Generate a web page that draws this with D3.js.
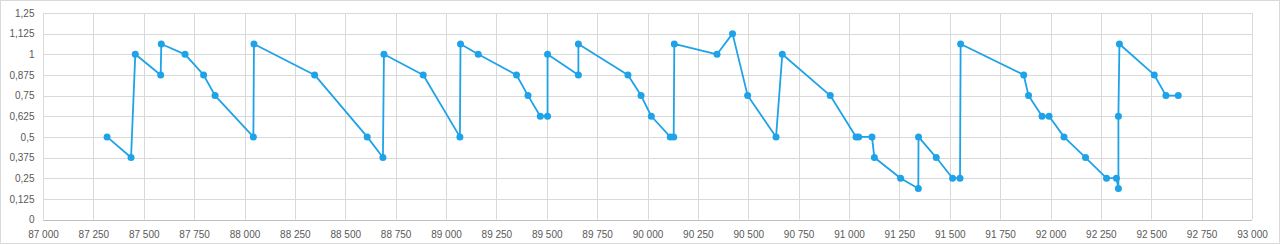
<!DOCTYPE html>
<html><head><meta charset="utf-8">
<script src="https://cdn.jsdelivr.net/npm/d3@7"></script>
<style>
html,body{margin:0;padding:0;background:#fff;}
svg{display:block;}
</style></head>
<body>
<svg id="c" width="1280" height="245"></svg>
<script>
const xValues = [87318,87437,87458,87584,87587,87705,87797,87854,88044,88047,88348,88609,88687,88692,88887,89069,89072,89160,89350,89407,89468,89504,89504,89657,89657,89903,89968,90019,90113,90130,90133,90345,90422,90497,90638,90669,90907,91035,91048,91114,91126,91256,91344,91345,91433,91514,91551,91554,91867,91891,91958,91993,92067,92174,92278,92327,92337,92337,92342,92515,92573,92634];
const yValues = [0.5,0.375,1,0.875,1.0625,1,0.875,0.75,0.5,1.0625,0.875,0.5,0.375,1,0.875,0.5,1.0625,1,0.875,0.75,0.625,0.625,1,0.875,1.0625,0.875,0.75,0.625,0.5,0.5,1.0625,1,1.125,0.75,0.5,1,0.75,0.5,0.5,0.5,0.375,0.25,0.1875,0.5,0.375,0.25,0.25,1.0625,0.875,0.75,0.625,0.625,0.5,0.375,0.25,0.25,0.1875,0.625,1.0625,0.875,0.75,0.75];
const xTicks = [87000,87250,87500,87750,88000,88250,88500,88750,89000,89250,89500,89750,90000,90250,90500,90750,91000,91250,91500,91750,92000,92250,92500,92750,93000];
const yTicks = [0,0.125,0.25,0.375,0.5,0.625,0.75,0.875,1,1.125,1.25];

const svg = d3.select("#c");
const W = 1280, H = 245;
const L = 43, R = 1252, T = 13, B = 219.5;
const x = d3.scaleLinear().domain([87000,93000]).range([L,R]);
const y = d3.scaleLinear().domain([0,1.25]).range([B,T]);
const fmtX = d => d3.format(",")(d).replace(/,/g, " ");
const fmtY = d => String(d).replace(".", ",");
const font = "'Liberation Sans',Arial,sans-serif";

svg.append("rect").attr("x",0.5).attr("y",0.5).attr("width",W-1).attr("height",H-2)
  .attr("fill","#fff").attr("stroke","#d9d9d9");

// grid
svg.append("g").selectAll("line").data(yTicks.filter(d=>d>0)).join("line")
  .attr("x1",L).attr("x2",R).attr("y1",d=>Math.round(y(d))+0.5).attr("y2",d=>Math.round(y(d))+0.5)
  .attr("stroke","#d9d9d9").attr("stroke-width",1);
svg.append("g").selectAll("line").data(xTicks.filter(d=>d>87000)).join("line")
  .attr("y1",T).attr("y2",B).attr("x1",d=>Math.round(x(d))+0.5).attr("x2",d=>Math.round(x(d))+0.5)
  .attr("stroke","#d9d9d9").attr("stroke-width",1);

// axes
const xAxis = d3.axisBottom(x).tickValues(xTicks).tickFormat(fmtX).tickSize(0).tickPadding(10);
const gx = svg.append("g").attr("transform",`translate(0,${Math.round(B)+0.5})`).call(xAxis);
gx.select(".domain").attr("stroke","#bfbfbf").attr("d",`M${L},0H${R}`);
gx.selectAll("text").attr("fill","#595959").style("font-family",font).style("font-size","10px");

const yAxis = d3.axisLeft(y).tickValues(yTicks).tickFormat(fmtY).tickSize(0).tickPadding(9);
const gy = svg.append("g").attr("transform",`translate(${L+0.5},0)`).call(yAxis);
gy.select(".domain").attr("stroke","#d9d9d9").attr("d",`M0,${T}V${B}`);
gy.selectAll("text").attr("fill","#595959").style("font-family",font).style("font-size","10px");

const data = xValues.map((v,i)=>({x:v,y:yValues[i]}));
const color = "#1ea3e9";
svg.append("path").datum(data)
  .attr("fill","none").attr("stroke",color).attr("stroke-width",1.8).attr("stroke-linejoin","round")
  .attr("d", d3.line().x(d=>x(d.x)).y(d=>y(d.y)));
svg.append("g").selectAll("circle").data(data).join("circle")
  .attr("cx",d=>x(d.x)).attr("cy",d=>y(d.y)).attr("r",3.5).attr("fill",color);
</script>
</body></html>
